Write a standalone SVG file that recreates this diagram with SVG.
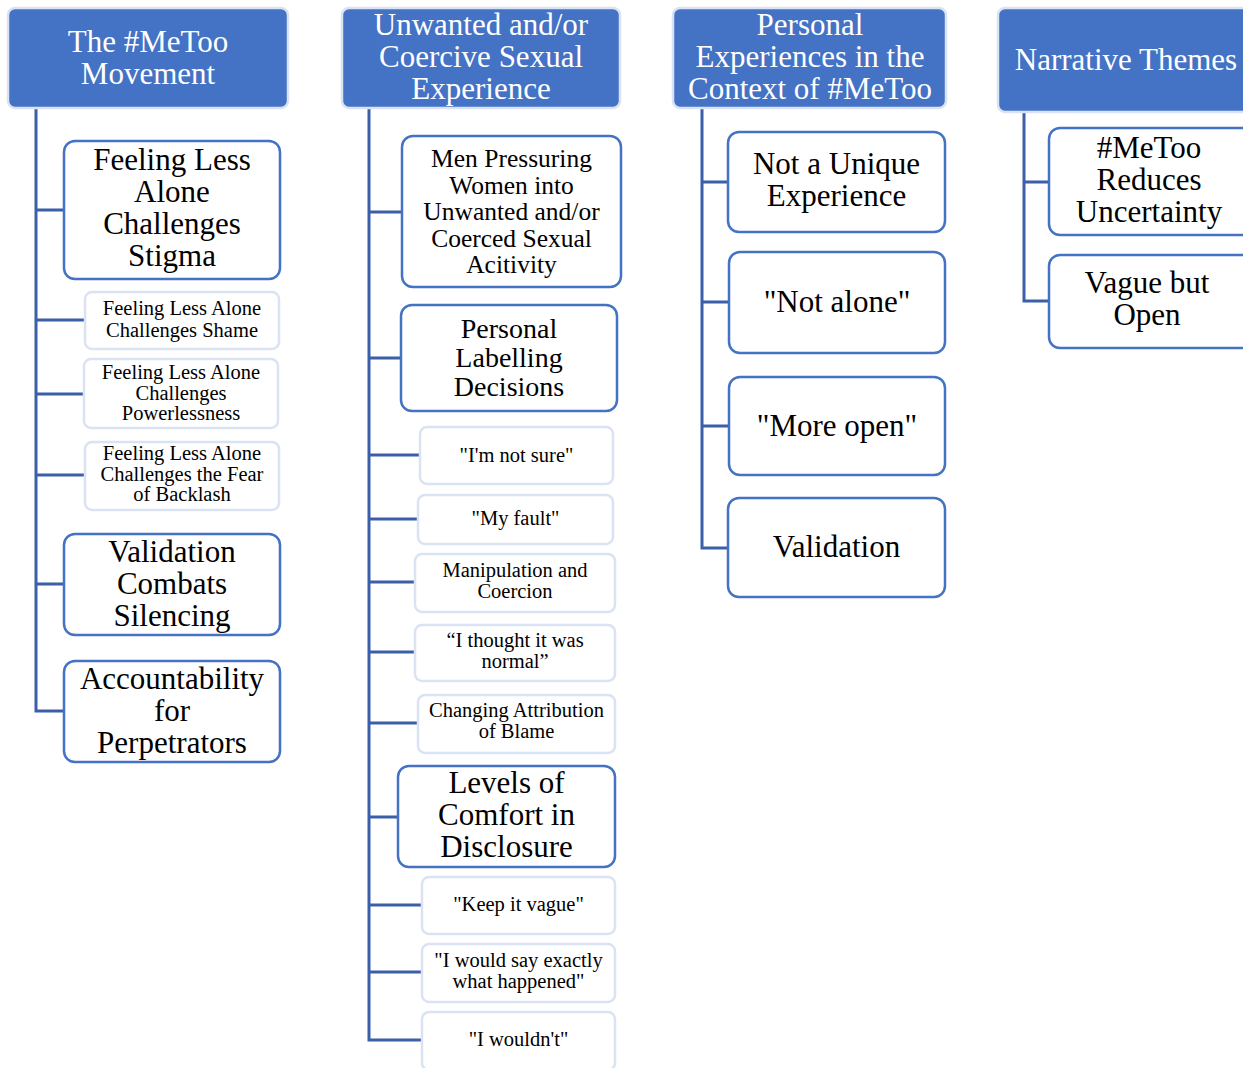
<svg xmlns="http://www.w3.org/2000/svg" width="1243" height="1068" viewBox="0 0 1243 1068">
<style>
.hdr{fill:#4472c4;stroke:#dae3f3;stroke-width:2.5}
.big{fill:#fff;stroke:#4472c4;stroke-width:2.5}
.sm{fill:#fff;stroke:#dae3f3;stroke-width:2.5}
.ht{font-family:"Liberation Serif",serif;font-size:31px;fill:#fff;text-anchor:middle}
.bt{font-family:"Liberation Serif",serif;font-size:31px;fill:#000;text-anchor:middle}
.mt{font-family:"Liberation Serif",serif;font-size:25.5px;fill:#000;text-anchor:middle}
.lt{font-family:"Liberation Serif",serif;font-size:28px;fill:#000;text-anchor:middle}
.st{font-family:"Liberation Serif",serif;font-size:20.5px;fill:#000;text-anchor:middle}
.con{fill:none;stroke:#3b5fa8;stroke-width:3}
</style>
<rect width="1243" height="1068" fill="#fff"/>
<g id="connectors">
<path class="con" d="M36 108V711H64M36 210H64M36 320H85M36 394H84M36 475H85M36 584H64"/>
<path class="con" d="M369 108V1040H422M369 212H402M369 358H401M369 455H420M369 519H418M369 582H415M369 652H415M369 723H418M369 817H398M369 905H422M369 972H422"/>
<path class="con" d="M702 108V548H728M702 182H728M702 302H729M702 426H729"/>
<path class="con" d="M1024 112V301H1049M1024 182H1049"/>
</g>
<g id="h1"><rect class="hdr" x="8" y="8" width="280" height="100" rx="7"/><text class="ht" x="148" y="52">The #MeToo</text><text class="ht" x="148" y="84">Movement</text></g>
<g id="h2"><rect class="hdr" x="342" y="8" width="278" height="100" rx="7"/><text class="ht" x="481" y="35">Unwanted and/or</text><text class="ht" x="481" y="67">Coercive Sexual</text><text class="ht" x="481" y="99">Experience</text></g>
<g id="h3"><rect class="hdr" x="673" y="8" width="273" height="100" rx="7"/><text class="ht" x="810" y="35">Personal</text><text class="ht" x="810" y="67">Experiences in the</text><text class="ht" x="810" y="99">Context of #MeToo</text></g>
<g id="h4"><rect class="hdr" x="998" y="8" width="262" height="104" rx="7"/><text class="ht" x="1126" y="70">Narrative Themes</text></g>

<g id="n1a"><rect class="big" x="64" y="141" width="216" height="138" rx="11"/><text class="bt" x="172" y="169.5">Feeling Less</text><text class="bt" x="172" y="201.5">Alone</text><text class="bt" x="172" y="233.5">Challenges</text><text class="bt" x="172" y="265.5">Stigma</text></g>
<g id="n1b"><rect class="sm" x="85" y="292" width="194" height="57" rx="7"/><text class="st" x="182" y="315">Feeling Less Alone</text><text class="st" x="182" y="337">Challenges Shame</text></g>
<g id="n1c"><rect class="sm" x="84" y="359" width="194" height="69" rx="7"/><text class="st" x="181" y="379">Feeling Less Alone</text><text class="st" x="181" y="400">Challenges</text><text class="st" x="181" y="420">Powerlessness</text></g>
<g id="n1d"><rect class="sm" x="85" y="442" width="194" height="68" rx="7"/><text class="st" x="182" y="460">Feeling Less Alone</text><text class="st" x="182" y="481">Challenges the Fear</text><text class="st" x="182" y="501">of Backlash</text></g>
<g id="n1e"><rect class="big" x="64" y="534" width="216" height="101" rx="11"/><text class="bt" x="172" y="562">Validation</text><text class="bt" x="172" y="594">Combats</text><text class="bt" x="172" y="626">Silencing</text></g>
<g id="n1f"><rect class="big" x="64" y="661" width="216" height="101" rx="11"/><text class="bt" x="172" y="689">Accountability</text><text class="bt" x="172" y="721">for</text><text class="bt" x="172" y="753">Perpetrators</text></g>

<g id="n2a"><rect class="big" x="402" y="136" width="219" height="151" rx="11"/><text class="mt" x="511.5" y="167">Men Pressuring</text><text class="mt" x="511.5" y="193.5">Women into</text><text class="mt" x="511.5" y="220">Unwanted and/or</text><text class="mt" x="511.5" y="246.5">Coerced Sexual</text><text class="mt" x="511.5" y="273">Acitivity</text></g>
<g id="n2b"><rect class="big" x="401" y="305" width="216" height="106" rx="11"/><text class="lt" x="509" y="338">Personal</text><text class="lt" x="509" y="367">Labelling</text><text class="lt" x="509" y="396">Decisions</text></g>
<g id="n2c"><rect class="sm" x="420" y="427" width="193" height="57" rx="7"/><text class="st" x="516.5" y="462">"I'm not sure"</text></g>
<g id="n2d"><rect class="sm" x="418" y="495" width="195" height="49" rx="7"/><text class="st" x="515.5" y="525">"My fault"</text></g>
<g id="n2e"><rect class="sm" x="415" y="554" width="200" height="58" rx="7"/><text class="st" x="515" y="577">Manipulation and</text><text class="st" x="515" y="598">Coercion</text></g>
<g id="n2f"><rect class="sm" x="415" y="625" width="200" height="56" rx="7"/><text class="st" x="515" y="647">“I thought it was</text><text class="st" x="515" y="668">normal”</text></g>
<g id="n2g"><rect class="sm" x="418" y="695" width="197" height="58" rx="7"/><text class="st" x="516.5" y="717">Changing Attribution</text><text class="st" x="516.5" y="738">of Blame</text></g>
<g id="n2h"><rect class="big" x="398" y="766" width="217" height="101" rx="11"/><text class="bt" x="506.5" y="793">Levels of</text><text class="bt" x="506.5" y="825">Comfort in</text><text class="bt" x="506.5" y="857">Disclosure</text></g>
<g id="n2i"><rect class="sm" x="422" y="877" width="193" height="57" rx="7"/><text class="st" x="518.5" y="911">"Keep it vague"</text></g>
<g id="n2j"><rect class="sm" x="422" y="944" width="193" height="58" rx="7"/><text class="st" x="518.5" y="967">"I would say exactly</text><text class="st" x="518.5" y="988">what happened"</text></g>
<g id="n2k"><rect class="sm" x="422" y="1012" width="193" height="58" rx="7"/><text class="st" x="518.5" y="1046">"I wouldn't"</text></g>

<g id="n3a"><rect class="big" x="728" y="132" width="217" height="100" rx="11"/><text class="bt" x="836.5" y="174">Not a Unique</text><text class="bt" x="836.5" y="206">Experience</text></g>
<g id="n3b"><rect class="big" x="729" y="252" width="216" height="101" rx="11"/><text class="bt" x="837" y="312">"Not alone"</text></g>
<g id="n3c"><rect class="big" x="729" y="377" width="216" height="98" rx="11"/><text class="bt" x="837" y="436">"More open"</text></g>
<g id="n3d"><rect class="big" x="728" y="498" width="217" height="99" rx="11"/><text class="bt" x="836.5" y="557">Validation</text></g>

<g id="n4a"><rect class="big" x="1049" y="128" width="205" height="107" rx="11"/><text class="bt" x="1149" y="158">#MeToo</text><text class="bt" x="1149" y="190">Reduces</text><text class="bt" x="1149" y="222">Uncertainty</text></g>
<g id="n4b"><rect class="big" x="1049" y="255" width="205" height="93" rx="11"/><text class="bt" x="1147" y="293">Vague but</text><text class="bt" x="1147" y="325">Open</text></g>
</svg>
